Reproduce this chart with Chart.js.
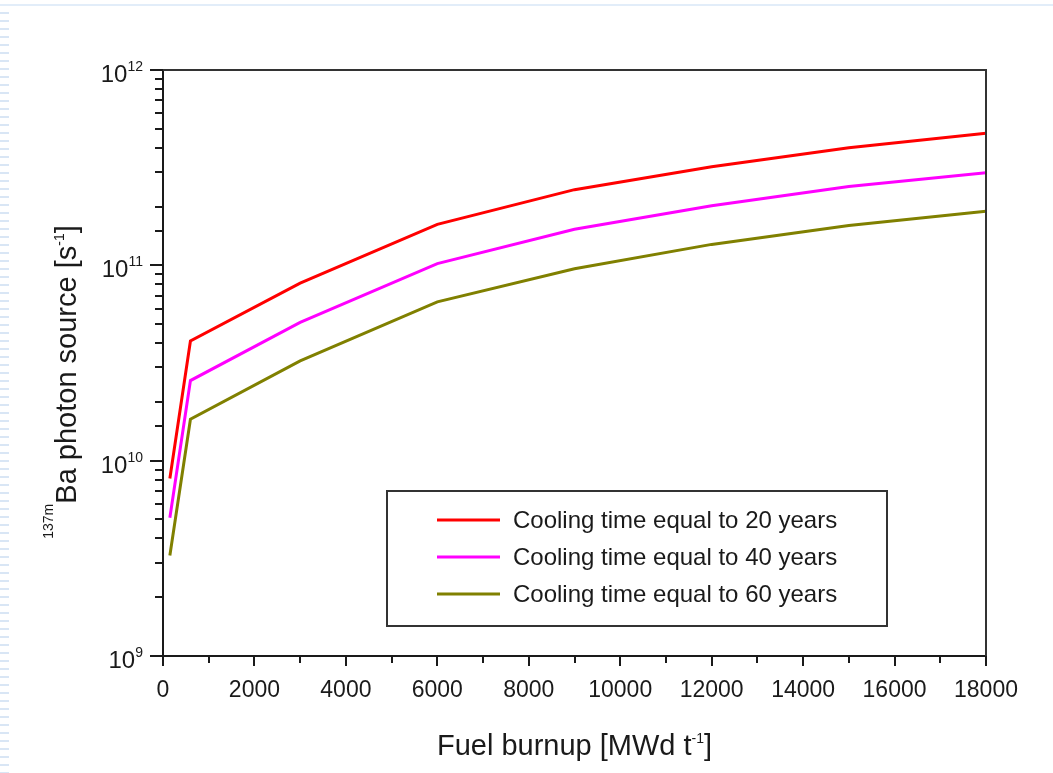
<!DOCTYPE html>
<html>
<head>
<meta charset="utf-8">
<title>137mBa photon source vs fuel burnup</title>
<script src="https://cdn.jsdelivr.net/npm/chart.js@4/dist/chart.umd.min.js"></script>
<style>
  html, body { margin: 0; padding: 0; background: #fff; }
  .page { position: relative; width: 1053px; height: 773px; overflow: hidden; }
  /* light blue slide trim: rule along the top, dashes down the left edge */
  .trim-top { position: absolute; left: 0; top: 4px; width: 1053px; height: 2px; background: #e2edf9; }
  .trim-left {
    position: absolute; left: 0; top: 12px; width: 9px; height: 761px;
    background: repeating-linear-gradient(to bottom, #d9e6f5 0, #d9e6f5 2px, transparent 2px, transparent 8px);
  }
  canvas { position: absolute; left: 0; top: 0; }
</style>
</head>
<body>
<div class="page">
  <div class="trim-top"></div>
  <div class="trim-left"></div>
  <canvas id="chart" width="1053" height="773"></canvas>
</div>
<script>
// Fuel burnup (MWd/t) and photon source (1/s) for each cooling time
const burnup = [150, 600, 3000, 6000, 9000, 12000, 15000, 18000];
const cool20 = [8.1e9, 4.1e10, 8.1e10, 1.62e11, 2.44e11, 3.2e11, 4.0e11, 4.75e11];
const cool40 = [5.1e9, 2.57e10, 5.1e10, 1.02e11, 1.53e11, 2.02e11, 2.53e11, 2.98e11];
const cool60 = [3.27e9, 1.63e10, 3.24e10, 6.5e10, 9.6e10, 1.28e11, 1.6e11, 1.89e11];

const seriesLabels = [
    'Cooling time equal to 20 years',
    'Cooling time equal to 40 years',
    'Cooling time equal to 60 years'
];
const seriesColors = ['#ff0000', '#ff00ff', '#808000'];

// axis ranges and labelled ticks
const xMin = 0, xMax = 18000, xStep = 1000, xLabelStep = 2000;
const yExponents = [9, 10, 11, 12];

const FONT = '"Liberation Sans", Arial, sans-serif';
const INK = '#1a1a1a';

function toPoints(ys) {
    return burnup.map((b, i) => ({ x: b, y: ys[i] }));
}

function isDecade(v) {
    const l = Math.log10(v);
    return Math.abs(l - Math.round(l)) < 1e-9;
}

// draws text pieces in a row; pieces with a rise are smaller and raised
function drawRich(ctx, parts, x, y, align) {
    const widths = parts.map(p => {
        ctx.font = p.size + 'px ' + FONT;
        return ctx.measureText(p.text).width;
    });
    const total = widths.reduce((a, b) => a + b, 0);
    let cx = align === 'center' ? x - total / 2 : (align === 'right' ? x - total : x);
    ctx.textAlign = 'left';
    ctx.textBaseline = 'alphabetic';
    parts.forEach((p, i) => {
        ctx.font = p.size + 'px ' + FONT;
        ctx.fillText(p.text, cx, y - (p.rise || 0));
        cx += widths[i];
    });
}

// tick marks, frame, y tick labels, axis titles and the boxed legend
const decor = {
    id: 'decor',
    afterDraw(chart) {
        const { ctx, chartArea: a, scales: { x, y } } = chart;
        ctx.save();

        // top and right sides of the frame
        ctx.strokeStyle = '#333';
        ctx.lineWidth = 2;
        ctx.beginPath();
        ctx.moveTo(a.left - 1, a.top);
        ctx.lineTo(a.right, a.top);
        ctx.lineTo(a.right, a.bottom);
        ctx.stroke();

        // x tick marks
        ctx.strokeStyle = INK;
        x.ticks.forEach(t => {
            const px = Math.round(x.getPixelForValue(t.value));
            const len = t.value % xLabelStep === 0 ? 10 : 7;
            ctx.beginPath();
            ctx.moveTo(px, a.bottom);
            ctx.lineTo(px, a.bottom + len);
            ctx.stroke();
        });

        // y tick marks (log scale, longer at each decade)
        y.ticks.forEach(t => {
            const py = Math.round(y.getPixelForValue(t.value));
            const len = isDecade(t.value) ? 13 : 8;
            ctx.beginPath();
            ctx.moveTo(a.left, py);
            ctx.lineTo(a.left - len, py);
            ctx.stroke();
        });

        // y tick labels as powers of ten
        ctx.fillStyle = INK;
        yExponents.forEach(e => {
            const py = y.getPixelForValue(Math.pow(10, e));
            drawRich(ctx, [
                { text: '10', size: 24 },
                { text: String(e), size: 14, rise: 11 }
            ], a.left - 20, py + 12, 'right');
        });

        // x axis title
        drawRich(ctx, [
            { text: 'Fuel burnup [MWd t', size: 29 },
            { text: '-1', size: 14, rise: 12 },
            { text: ']', size: 29 }
        ], (a.left + a.right) / 2, 755, 'center');

        // y axis title, rotated
        ctx.save();
        ctx.translate(76, 382);
        ctx.rotate(-Math.PI / 2);
        drawRich(ctx, [
            { text: '137m', size: 14, rise: 23 },
            { text: 'Ba photon source [s', size: 29 },
            { text: '-1', size: 14, rise: 12 },
            { text: ']', size: 29 }
        ], 0, 0, 'center');
        ctx.restore();

        // legend box
        const box = { left: 387, top: 491, right: 887, bottom: 626 };
        ctx.fillStyle = '#fff';
        ctx.fillRect(box.left, box.top, box.right - box.left, box.bottom - box.top);
        ctx.strokeStyle = '#333';
        ctx.lineWidth = 2;
        ctx.strokeRect(box.left, box.top, box.right - box.left, box.bottom - box.top);
        chart.data.datasets.forEach((ds, i) => {
            const ry = 520 + i * 37;
            ctx.strokeStyle = ds.borderColor;
            ctx.lineWidth = 3;
            ctx.beginPath();
            ctx.moveTo(437, ry);
            ctx.lineTo(500, ry);
            ctx.stroke();
            ctx.fillStyle = INK;
            ctx.font = '24px ' + FONT;
            ctx.textAlign = 'left';
            ctx.textBaseline = 'middle';
            ctx.fillText(ds.label, 513, ry + 1);
        });

        ctx.restore();
    }
};

const datasets = [cool20, cool40, cool60].map((ys, i) => ({
    label: seriesLabels[i],
    data: toPoints(ys),
    borderColor: seriesColors[i],
    backgroundColor: seriesColors[i],
    borderWidth: 3,
    pointRadius: 0,
    tension: 0,
    fill: false
}));

new Chart(document.getElementById('chart'), {
    type: 'line',
    data: { datasets: datasets },
    options: {
        responsive: false,
        animation: false,
        events: [],
        layout: { padding: { top: 70, right: 67, left: 0, bottom: 0 } },
        plugins: {
            legend: { display: false },
            tooltip: { enabled: false }
        },
        scales: {
            x: {
                type: 'linear',
                min: xMin,
                max: xMax,
                afterFit: s => { s.height = 117; },
                border: { display: true, color: INK, width: 2 },
                grid: { display: false },
                ticks: {
                    stepSize: xStep,
                    autoSkip: false,
                    maxRotation: 0,
                    padding: 13,
                    color: INK,
                    font: { family: FONT, size: 23 },
                    callback: v => (v % xLabelStep === 0 ? String(v) : '')
                }
            },
            y: {
                type: 'logarithmic',
                min: Math.pow(10, yExponents[0]),
                max: Math.pow(10, yExponents[yExponents.length - 1]),
                afterFit: s => { s.width = 163; },
                border: { display: true, color: INK, width: 2 },
                grid: { display: false },
                ticks: { display: false, autoSkip: false }
            }
        }
    },
    plugins: [decor]
});
</script>
</body>
</html>
